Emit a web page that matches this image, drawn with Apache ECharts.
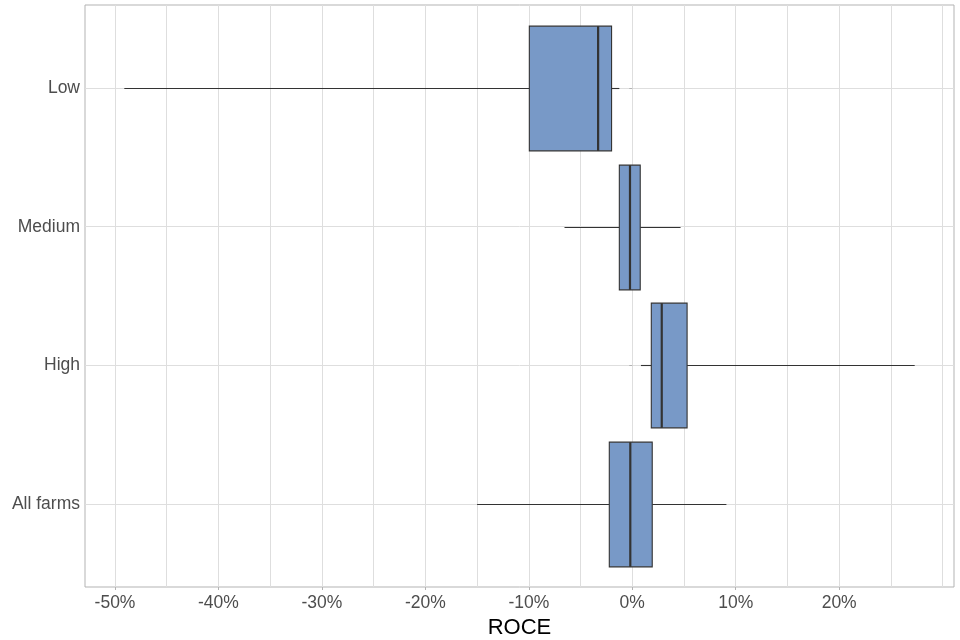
<!DOCTYPE html>
<html>
<head>
<meta charset="utf-8">
<script src="https://cdn.jsdelivr.net/npm/echarts@6/dist/echarts.min.js"></script>
<style>html,body{margin:0;padding:0;background:#fff}#c{width:960px;height:640px}</style>
</head>
<body>
<div id="c"></div>
<script>
// Categories (top to bottom)
var categories = ['Low', 'Medium', 'High', 'All farms'];
// Box statistics in % : [lower whisker, Q1, median, Q3, upper whisker]
var lowStats = [-49.1, -9.95, -3.3, -2.0, -1.25];
var mediumStats = [-6.55, -1.25, -0.22, 0.77, 4.67];
var highStats = [0.84, 1.84, 2.85, 5.3, 27.3];
var allFarmsStats = [-15.0, -2.22, -0.19, 1.93, 9.1];
// Axis ticks
var xLabelTicks = [-50, -40, -30, -20, -10, 0, 10, 20];
var xGridTicks = [-50, -45, -40, -35, -30, -25, -20, -15, -10, -5, 0, 5, 10, 15, 20, 25, 30];
var yTicks = [1, 2, 3, 4];

var statsList = [lowStats, mediumStats, highStats, allFarmsStats];
var seriesData = statsList.map(function (s, i) { return [i + 1].concat(s); });

var chart = echarts.init(document.getElementById('c'), null, {renderer: 'canvas'});
var FONT = 'Liberation Sans, Arial, sans-serif';
var xMin = -52.9, xMax = 31.1;

chart.setOption({
  animation: false,
  backgroundColor: '#ffffff',
  grid: {left: 85, right: 6, top: 5, bottom: 53, containLabel: false, outerBoundsMode: 'none',
    show: true, borderColor: '#b3b3b3', borderWidth: 1, backgroundColor: 'transparent'},
  xAxis: [{
    type: 'value', min: xMin, max: xMax, position: 'bottom',
    axisLine: {show: false},
    axisTick: {show: false, customValues: xGridTicks},
    axisLabel: {show: false},
    splitLine: {show: true, lineStyle: {color: '#dedede', width: 1}}
  }, {
    type: 'value', min: xMin, max: xMax, position: 'bottom',
    name: 'ROCE', nameLocation: 'middle', nameGap: 22,
    nameTextStyle: {fontFamily: FONT, fontSize: 22, color: '#000000'},
    axisLine: {show: false},
    axisTick: {show: true, length: 3, customValues: xLabelTicks, lineStyle: {color: '#b3b3b3'}},
    axisLabel: {show: true, customValues: xLabelTicks, margin: 7, fontFamily: FONT, fontSize: 17.5, color: '#4d4d4d',
      formatter: function (v) { return Math.round(v) + '%'; }},
    splitLine: {show: false}
  }],
  yAxis: {
    type: 'value', min: 0.4, max: 4.6, inverse: true,
    axisLine: {show: false},
    axisTick: {show: true, length: 3, customValues: yTicks, lineStyle: {color: '#b3b3b3'}},
    axisLabel: {show: true, customValues: yTicks, margin: 5, padding: [4, 0, 0, 0], fontFamily: FONT, fontSize: 17.5, color: '#4d4d4d',
      formatter: function (v) { return categories[Math.round(v) - 1] || ''; }},
    splitLine: {show: true, lineStyle: {color: '#dedede', width: 1}}
  },
  series: [{
    type: 'custom',
    xAxisIndex: 0,
    data: seriesData,
    encode: {y: 0, x: [1, 2, 3, 4, 5]},
    renderItem: function (params, api) {
      var y = api.value(0);
      var mn = api.coord([api.value(1), y]);
      var q1 = api.coord([api.value(2), y]);
      var md = api.coord([api.value(3), y]);
      var q3 = api.coord([api.value(4), y]);
      var mx = api.coord([api.value(5), y]);
      var h = api.size([0, 0.9])[1];
      var cy = Math.round(q1[1]) + 0.5;
      var stroke = '#333333';
      return {
        type: 'group',
        children: [
          {type: 'line', shape: {x1: mn[0], y1: cy, x2: q1[0], y2: cy}, style: {stroke: stroke, lineWidth: 1.1}},
          {type: 'line', shape: {x1: q3[0], y1: cy, x2: mx[0], y2: cy}, style: {stroke: stroke, lineWidth: 1.1}},
          {type: 'rect', shape: {x: q1[0], y: cy - h / 2, width: q3[0] - q1[0], height: h},
            style: {fill: '#7899c7', stroke: stroke, lineWidth: 1.1}},
          {type: 'line', shape: {x1: md[0], y1: cy - h / 2, x2: md[0], y2: cy + h / 2}, style: {stroke: stroke, lineWidth: 2.2}}
        ]
      };
    }
  }]
});
</script>
</body>
</html>
